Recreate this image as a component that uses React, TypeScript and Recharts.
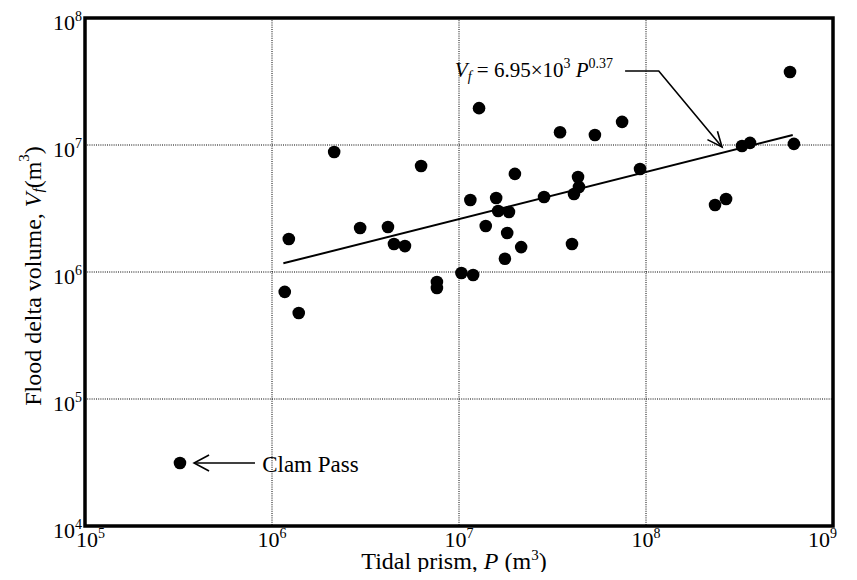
import React from 'react';
import { ScatterChart, Scatter, XAxis, YAxis, CartesianGrid, ReferenceArea } from 'recharts';

// Tidal prism P (m^3) and flood delta volume Vf (m^3)
const tidalPrism = [
  3.22e5, 1.17e6, 1.39e6, 1.23e6, 2.15e6, 2.96e6, 4.17e6, 4.49e6, 5.14e6, 6.27e6,
  7.62e6, 7.62e6, 1.03e7, 1.19e7, 1.28e7, 1.15e7, 1.58e7, 1.39e7, 1.62e7, 1.85e7,
  1.81e7, 2.15e7, 1.76e7, 1.99e7, 2.85e7, 3.47e7, 4.02e7, 4.12e7, 4.38e7, 4.33e7,
  5.33e7, 7.45e7, 9.29e7, 2.34e8, 2.68e8, 3.26e8, 3.6e8, 5.89e8, 6.18e8,
];
const floodDeltaVolume = [
  3.13e4, 6.97e5, 4.75e5, 1.82e6, 8.81e6, 2.22e6, 2.26e6, 1.66e6, 1.6e6, 6.84e6,
  8.34e5, 7.48e5, 9.82e5, 9.47e5, 1.95e7, 3.69e6, 3.83e6, 2.3e6, 3.02e6, 2.97e6,
  2.03e6, 1.57e6, 1.27e6, 5.92e6, 3.9e6, 1.26e7, 1.66e6, 4.11e6, 4.67e6, 5.6e6,
  1.2e7, 1.52e7, 6.47e6, 3.37e6, 3.76e6, 9.82e6, 1.04e7, 3.76e7, 1.02e7,
];

const xTicks = [1e5, 1e6, 1e7, 1e8, 1e9];
const yTicks = [1e4, 1e5, 1e6, 1e7, 1e8];

// Fitted line Vf = 6.95e3 P^0.37 (end points)
const fitP = [1.15e6, 6.09e8];
const fitV = [1.17e6, 1.2e7];

// Annotation leader to the fitted line
const leaderP = [7.73e7, 1.17e8, 2.55e8];
const leaderV = [3.83e7, 3.83e7, 9.64e6];

// Clam Pass arrow
const clamArrowP = [8.11e5, 3.83e5];
const clamArrowV = [3.13e4, 3.13e4];

const equationAnchorP = [9.5e6];
const equationAnchorV = [3.43e7];
const clamLabelP = [8.86e5];
const clamLabelV = [2.66e4];

const FONT = '"Liberation Serif", "Times New Roman", serif';

const zip = (xs: number[], ys: number[]) => xs.map((x, i) => ({ x, y: ys[i] }));

const points = zip(tidalPrism, floodDeltaVolume);
const fitData = zip(fitP, fitV);
const leaderData = zip(leaderP, leaderV);
const clamArrowData = zip(clamArrowP, clamArrowV);
const equationData = zip(equationAnchorP, equationAnchorV);
const clamLabelData = zip(clamLabelP, clamLabelV);
const leaderTip = [leaderData[leaderData.length - 1]];
const clamTip = [clamArrowData[clamArrowData.length - 1]];

const XTick = (props: any) => {
  const { x, y, payload, index } = props;
  const exp = Math.round(Math.log10(payload.value));
  let anchor: 'middle' | 'start' | 'end' = 'middle';
  let tx = x;
  if (index === 0) {
    anchor = 'start';
    tx = x - 9;
  } else if (index === xTicks.length - 1) {
    anchor = 'end';
    tx = x + 4;
  }
  return (
    <text x={tx} y={y + 21} textAnchor={anchor} fontFamily={FONT} fontSize={22} fill="#000">
      10<tspan dy={-9} fontSize={14}>{exp}</tspan>
    </text>
  );
};

const YTick = (props: any) => {
  const { x, y, payload } = props;
  const exp = Math.round(Math.log10(payload.value));
  return (
    <text x={x - 3} y={y + 12} textAnchor="end" fontFamily={FONT} fontSize={22} fill="#000">
      10<tspan dy={-9} fontSize={14}>{exp}</tspan>
    </text>
  );
};

const Dot = (props: any) => <circle cx={props.cx} cy={props.cy} r={6.3} fill="#000" />;
const Nothing = () => <g />;

const makeArrowHead = (angleDeg: number, len: number, half: number) => (props: any) => {
  const { cx, cy } = props;
  const a = (angleDeg * Math.PI) / 180;
  const rot = (px: number, py: number) => [cx + px * Math.cos(a) - py * Math.sin(a), cy + px * Math.sin(a) + py * Math.cos(a)];
  const p1 = rot(-len, -half);
  const p2 = rot(-len, half);
  return (
    <polyline
      points={`${p1[0]},${p1[1]} ${cx},${cy} ${p2[0]},${p2[1]}`}
      fill="none"
      stroke="#000"
      strokeWidth={1.6}
    />
  );
};

const LeaderHead = makeArrowHead(50.3, 15, 6.5);
const ClamHead = makeArrowHead(180, 15, 8);

const EquationText = (props: any) => (
  <text x={props.cx} y={props.cy} fontFamily={FONT} fontSize={21} fill="#000">
    <tspan fontStyle="italic">V</tspan>
    <tspan fontStyle="italic" fontSize={14} dy={4}>f</tspan>
    <tspan dy={-4}>{'\u00A0= 6.95×10'}</tspan>
    <tspan dy={-9} fontSize={14}>3</tspan>
    <tspan dy={9}>{'\u00A0'}</tspan>
    <tspan fontStyle="italic">P</tspan>
    <tspan dy={-9} fontSize={14}>0.37</tspan>
  </text>
);

const ClamText = (props: any) => (
  <text x={props.cx} y={props.cy} fontFamily={FONT} fontSize={23} fill="#000">
    Clam Pass
  </text>
);

const XTitle = (props: any) => {
  const vb = props.viewBox || {};
  return (
    <text x={vb.x + vb.width / 2 - 5} y={vb.y + 43} textAnchor="middle" fontFamily={FONT} fontSize={24} fill="#000">
      Tidal prism, <tspan fontStyle="italic">P</tspan>{'\u00A0(m'}
      <tspan dy={-9} fontSize={15}>3</tspan>
      <tspan dy={9}>)</tspan>
    </text>
  );
};

const YTitle = (props: any) => {
  const vb = props.viewBox || {};
  const cx = vb.x + 8;
  const cy = vb.y + vb.height / 2 + 4;
  return (
    <text
      x={cx}
      y={cy}
      transform={`rotate(-90, ${cx}, ${cy})`}
      textAnchor="middle"
      dominantBaseline="central"
      fontFamily={FONT}
      fontSize={24}
      fill="#000"
    >
      Flood delta volume,{'\u00A0'}
      <tspan fontStyle="italic">V</tspan>
      <tspan fontStyle="italic" fontSize={15} dy={5}>f</tspan>
      <tspan dy={-5}>(m</tspan>
      <tspan dy={-9} fontSize={15}>3</tspan>
      <tspan dy={9}>)</tspan>
    </text>
  );
};

export default function App() {
  return (
    <div style={{ marginBottom: -8 }}>
      <ScatterChart width={841} height={572} margin={{ top: 10, right: 16, left: 17, bottom: 14 }}>
        <CartesianGrid stroke="#000" strokeDasharray="1 1.2" strokeWidth={1} />
        <XAxis
          type="number"
          dataKey="x"
          scale="log"
          domain={[1e5, 1e9]}
          ticks={xTicks}
          interval={0}
          allowDataOverflow
          axisLine={false}
          tickLine={false}
          tickSize={0}
          tickMargin={0}
          height={40}
          tick={<XTick />}
          label={{ position: 'center', content: (p: any) => <XTitle {...p} /> }}
        />
        <YAxis
          type="number"
          dataKey="y"
          scale="log"
          domain={[1e4, 1e8]}
          ticks={yTicks}
          interval={0}
          allowDataOverflow
          axisLine={false}
          tickLine={false}
          tickSize={0}
          tickMargin={0}
          width={60}
          tick={<YTick />}
          label={{ position: 'center', content: (p: any) => <YTitle {...p} /> }}
        />
        <Scatter data={fitData} shape={Nothing} line={{ stroke: '#000', strokeWidth: 2 }} isAnimationActive={false} />
        <Scatter data={leaderData} shape={Nothing} line={{ stroke: '#000', strokeWidth: 1.6 }} isAnimationActive={false} />
        <Scatter data={leaderTip} shape={LeaderHead} isAnimationActive={false} />
        <Scatter data={clamArrowData} shape={Nothing} line={{ stroke: '#000', strokeWidth: 1.6 }} isAnimationActive={false} />
        <Scatter data={clamTip} shape={ClamHead} isAnimationActive={false} />
        <Scatter data={points} shape={Dot} isAnimationActive={false} />
        <Scatter data={equationData} shape={EquationText} isAnimationActive={false} />
        <Scatter data={clamLabelData} shape={ClamText} isAnimationActive={false} />
        <ReferenceArea x1={1e5} x2={1e9} y1={1e4} y2={1e8} fill="none" stroke="#000" strokeWidth={3.5} ifOverflow="visible" />
      </ScatterChart>
    </div>
  );
}
